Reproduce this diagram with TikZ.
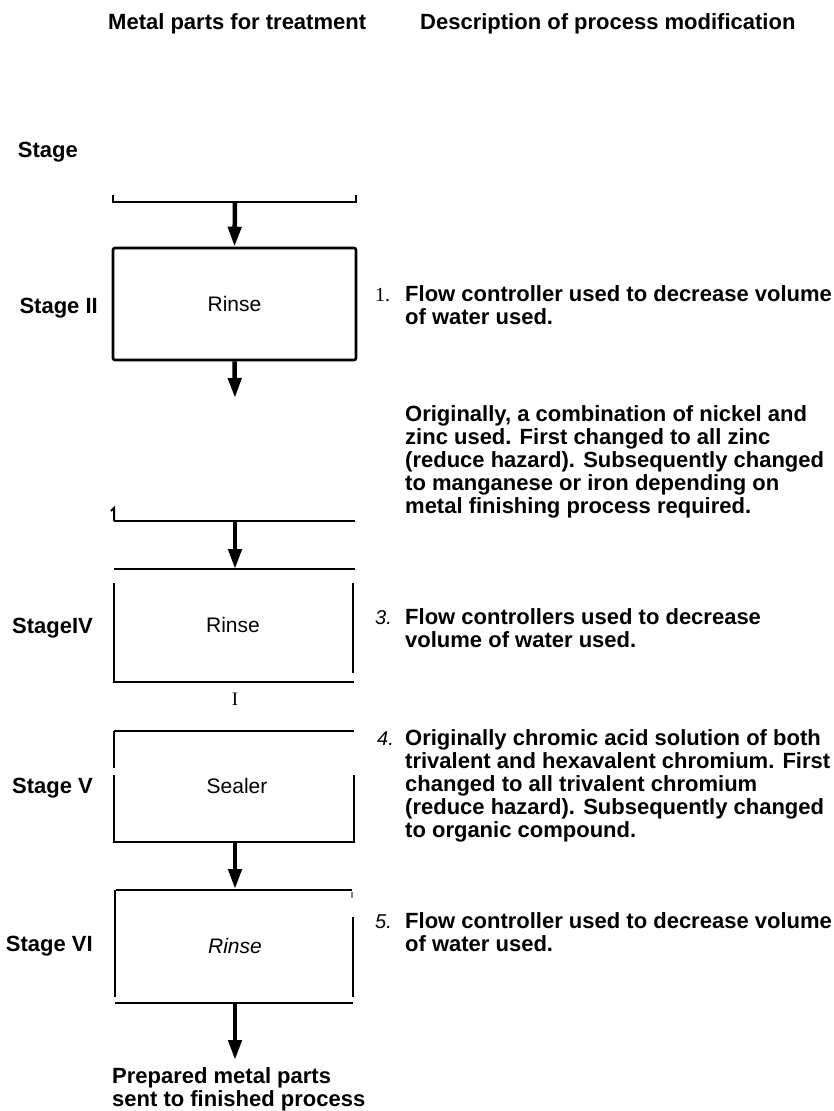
\documentclass[tikz,border=0pt]{standalone}
\usepackage{fontspec}
\setmainfont{Liberation Sans}
\newfontfamily\numserif{Liberation Serif}
\usetikzlibrary{arrows.meta}

\tikzset{
  flow/.style={line width=4.5pt, -{Triangle[length=20pt,width=13pt]}},
  rule/.style={line width=2.6pt},
  side/.style={line width=2pt},
  heading/.style={font=\fontsize{22}{23}\selectfont\bfseries, inner sep=0pt},
  boxtext/.style={font=\fontsize{21}{21}\selectfont, inner sep=0pt, anchor=base},
  stepnum/.style={font=\fontsize{20}{20}\selectfont\itshape, inner sep=0pt, anchor=base west},
}
\newcommand{\desctext}[1]{\parbox[t]{440pt}{\raggedright #1}}

\begin{document}
\begin{tikzpicture}[x=1pt,y=-1pt]
    \useasboundingbox (0,0) rectangle (834,1111);

    % column headings
    \node[heading, anchor=base west] (hparts) at (108,29) {Metal parts for treatment};
    \node[heading, anchor=base west] (hdesc)  at (420,29) {Description of process modification};

    % stage labels
    \node[heading, anchor=base east] (sI)   at (78,157) {Stage};
    \node[heading, anchor=base east] (sII)  at (98,313) {Stage II};
    \node[heading, anchor=base east] (sIV)  at (93,633) {StageIV};
    \node[heading, anchor=base east] (sV)   at (93,793) {Stage V};
    \node[heading, anchor=base east] (sVI)  at (93,951) {Stage VI};

    % top of first stage
    \coordinate (feed) at (235,202);
    \draw[rule] (113,195) -- (113,202) -- (356,202) -- (356,195);

    % Stage II
    \node[draw, rule, rounded corners=2pt, minimum width=243pt, minimum height=112pt,
          inner sep=0pt, font=\fontsize{21}{21}\selectfont] (rinseII) at (234.5,304) {Rinse};
    \coordinate (cutII) at (235,398);
    \draw[flow] (feed) -- (rinseII.north);
    \draw[flow] (rinseII.south) -- (cutII);

    % stage III (only its lower edge)
    \draw[side] (111,511) -- (114,508) -- (114,521);
    \coordinate (outIII) at (235,521);
    \coordinate (inIV)   at (235,569);
    \draw[rule] (114,521) -- (355,521);
    \draw[flow] (outIII) -- (inIV);
    \draw[rule] (114,569) -- (355,569);

    % Stage IV
    \draw[side] (114,583) -- (114,682);
    \draw[side] (353,583) -- (353,673);
    \draw[rule] (113,682) -- (354,682);
    \node[boxtext] (rinseIV) at (233,632) {Rinse};
    \node[font=\numserif\fontsize{19}{19}\selectfont, inner sep=0pt, anchor=base] (mark) at (235,705) {I};

    % Stage V
    \draw[rule] (114,731) -- (354,731);
    \draw[side] (114,731) -- (114,768);
    \draw[side] (114,775) -- (114,842);
    \draw[side] (354,775) -- (354,842);
    \draw[rule] (113,842) -- (355,842);
    \node[boxtext] (sealer) at (237,793) {Sealer};
    \coordinate (outV) at (235,842);
    \coordinate (inVI) at (235,889);
    \draw[flow] (outV) -- (inVI);

    % Stage VI
    \draw[rule] (116,890) -- (352,890);
    \draw[side] (115,890) -- (115,997);
    \draw[side, gray] (352,892) -- (352,898);
    \draw[side] (353,917) -- (353,997);
    \draw[rule] (115,1003) -- (353,1003);
    \node[boxtext, font=\fontsize{21}{21}\selectfont\itshape] (rinseVI) at (235,953) {Rinse};
    \coordinate (outVI) at (235,1003);
    \coordinate (done)  at (235,1060);
    \draw[flow] (outVI) -- (done);
    \node[heading, anchor=base west] (prep) at (112,1083)
        {\desctext{Prepared metal parts\\sent to finished process}};

    % numbered modifications
    \node[font=\numserif\fontsize{20}{20}\selectfont, inner sep=0pt, anchor=base west] (n1) at (375,301) {1.};
    \node[stepnum] (n3) at (375,624) {3.};
    \node[stepnum] (n4) at (377,745) {4.};
    \node[stepnum] (n5) at (375,928) {5.};

    \node[heading, anchor=base west] (d1) at (405,301)
        {\desctext{Flow controller used to decrease volume\\of water used.}};
    \node[heading, anchor=base west] (d2) at (405,421)
        {\desctext{Originally, a combination of nickel and\\zinc used. First changed to all zinc\\(reduce hazard). Subsequently changed\\to manganese or iron depending on\\metal finishing process required.}};
    \node[heading, anchor=base west] (d3) at (405,624)
        {\desctext{Flow controllers used to decrease\\volume of water used.}};
    \node[heading, anchor=base west] (d4) at (405,745)
        {\desctext{Originally chromic acid solution of both\\trivalent and hexavalent chromium. First\\changed to all trivalent chromium\\(reduce hazard). Subsequently changed\\to organic compound.}};
    \node[heading, anchor=base west] (d5) at (405,928)
        {\desctext{Flow controller used to decrease volume\\of water used.}};
\end{tikzpicture}
\end{document}
